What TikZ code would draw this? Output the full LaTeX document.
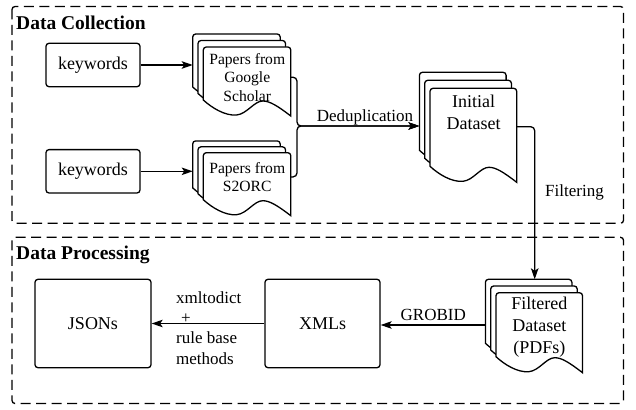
\documentclass[tikz,border=0pt]{standalone}
\usepackage{fontspec}
\setmainfont{Liberation Serif}
\usetikzlibrary{arrows.meta, calc, backgrounds}
\newcommand{\boxfont}{\fontsize{18}{21.6}\selectfont}
\newcommand{\docfont}{\fontsize{15.6}{18.6}\selectfont}
\newcommand{\labelfont}{\fontsize{17}{20.3}\selectfont}
\newcommand{\titlefont}{\fontsize{19.5}{23}\selectfont\bfseries}
\newcommand{\docstack}[4]{%
  \coordinate (#1-back) at ($(#1.north west)+(-10.6,-2*#4)$);
  \begin{pgfonlayer}{background}
    \foreach \k in {2,1,0}
      \draw[docpage, shift={($(#1.north west)+(-5.3*\k,-#4*\k)$)}]
        (0,#3-16) [rounded corners=3pt] -- (0,0) -- (#2,0) [sharp corners] -- (#2,#3)
        .. controls (0.85*#2,#3-10) and (0.76*#2,#3-15) .. (0.68*#2,#3-15)
        .. controls (0.58*#2,#3-15) and (0.5*#2,#3-2) .. (0.38*#2,#3-1)
        .. controls (0.25*#2,#3) and (0.1*#2,#3-8) .. (0,#3-16) -- cycle;
  \end{pgfonlayer}}
\tikzset{
  stagebox/.style={draw, dash pattern=on 10pt off 5.5pt, line width=1.3pt, rounded corners=3pt},
  stagetitle/.style={font=\titlefont, inner sep=0pt, anchor=base west},
  box/.style={draw, line width=1.3pt, rounded corners=3pt, font=\boxfont, align=center},
  docnode/.style={anchor=north west, inner sep=0pt, align=center},
  docpage/.style={draw, fill=white, line width=1.3pt},
  flow/.style={line width=1.3pt, rounded corners=4pt, -{Stealth[length=11pt, width=7.5pt, inset=2.5pt]}},
  elabel/.style={font=\labelfont, inner sep=0pt}
}
\begin{document}
\begin{tikzpicture}[x=1pt, y=-1pt]
  \useasboundingbox (0,0) rectangle (636,409);
  \draw[stagebox] (12,6.5) rectangle (623.5,223.3);
  \draw[stagebox] (12,237.3) rectangle (623.5,403.5);
  \node[stagetitle] (dctitle) at (16,29.3) {Data Collection};
  \node[stagetitle] (dptitle) at (16,259.3) {Data Processing};

  \node[box, minimum width=94pt, minimum height=43.4pt] (kw1) at (93,65) {keywords};
  \node[box, minimum width=94pt, minimum height=43.4pt] (kw2) at (93,171.3) {keywords};
  \node[docnode, font=\docfont, minimum width=87.5pt, minimum height=60pt] (gs) at (203.3,47) {Papers from\\Google\\Scholar};
  \docstack{gs}{87.5}{69}{6.5}
  \node[docnode, font=\docfont, minimum width=87.5pt, minimum height=48pt] (s2) at (203.3,152.7) {Papers from\\S2ORC};
  \docstack{s2}{87.5}{63}{5.9}
  \node[docnode, font=\boxfont, minimum width=86.7pt, minimum height=47.4pt] (init) at (430,88.3) {Initial\\Dataset};
  \docstack{init}{86.7}{94}{8}
  \node[docnode, font=\boxfont, minimum width=86.5pt, minimum height=68.6pt] (filt) at (496,292.7) {Filtered\\Dataset\\(PDFs)};
  \docstack{filt}{86.5}{80}{6.7}
  \node[box, minimum width=115pt, minimum height=88.4pt] (xmls) at (322.5,323.5) {XMLs};
  \node[box, minimum width=116pt, minimum height=88.4pt] (jsons) at (93,323.5) {JSONs};

  \coordinate (merge) at (297,126);
  \coordinate (initout) at ($(init.north east)+(0,38.4)$);
  \coordinate (filtout) at ($(filt-back)+(0,45.7)$);
  \draw[flow] (kw1.east) -- (kw1.east -| gs-back);
  \draw[flow] (kw2.east) -- (kw2.east -| s2-back);
  \draw[flow] (gs.east) -| (merge) -- (merge -| init-back);
  \draw[flow] (s2.east) -| (merge) -- (merge -| init-back);
  \draw[flow] (initout) -| ($(filt-back)+(49.3,0)$);
  \draw[flow] (filtout) -- (filtout -| xmls.east);
  \draw[flow] (xmls) -- (jsons);

  \node[elabel, anchor=base] (dedup) at (365,121.7) {Deduplication};
  \node[elabel, anchor=base west] (filtering) at (545,196.7) {Filtering};
  \node[elabel, anchor=base] (grobid) at (433.3,320) {GROBID};
  \node[elabel, anchor=west, align=left] (convert) at (176,328) {xmltodict\\\hspace{5pt}+\\rule base\\methods};
\end{tikzpicture}
\end{document}
